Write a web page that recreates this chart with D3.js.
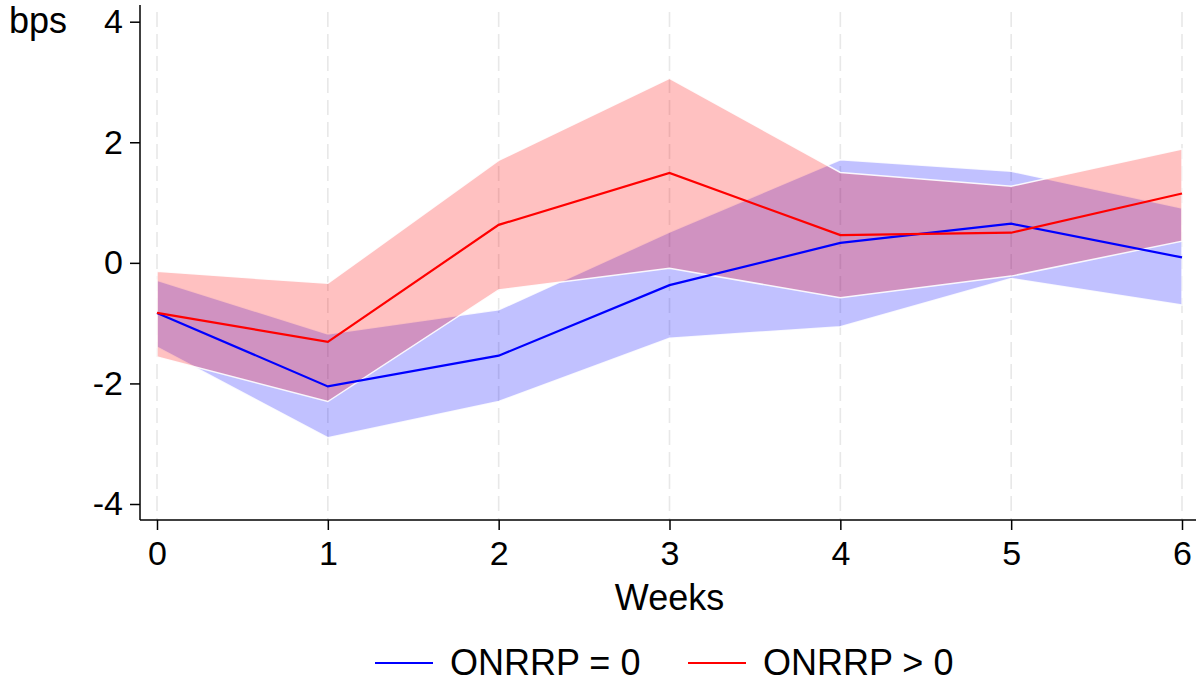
<!DOCTYPE html>
<html>
<head>
<meta charset="utf-8">
<script src="https://cdn.jsdelivr.net/npm/d3@7"></script>
<style>
  html, body { margin: 0; padding: 0; background: #fff; }
  svg { display: block; font-family: "Liberation Sans", Arial, Helvetica, sans-serif; }
</style>
</head>
<body>
<svg id="chart" width="1196" height="683"></svg>
<script>
// Weeks after the event
const weeks = [0, 1, 2, 3, 4, 5, 6];

// ONRRP = 0: point estimate and confidence band (bps)
const zeroMean  = [-0.83, -2.05, -1.54, -0.37, 0.33, 0.65, 0.09];
const zeroUpper = [-0.29, -1.18, -0.78, 0.51, 1.71, 1.52, 0.91];
const zeroLower = [-1.40, -2.90, -2.30, -1.25, -1.06, -0.26, -0.70];

// ONRRP > 0: point estimate and confidence band (bps)
const posMean  = [-0.83, -1.31, 0.63, 1.49, 0.46, 0.50, 1.15];
const posUpper = [-0.14, -0.34, 1.70, 3.06, 1.50, 1.27, 1.89];
const posLower = [-1.56, -2.30, -0.45, -0.09, -0.58, -0.22, 0.36];

const yTicks = [-4, -2, 0, 2, 4];
const seriesNames = ["ONRRP = 0", "ONRRP > 0"];

const svg = d3.select("#chart");

const x = d3.scaleLinear().domain([0, 6]).range([157, 1182]);
const y = d3.scaleLinear().domain([-4, 4]).range([504, 21.7]);

const plotTop = 5, plotBottom = 520, plotLeft = 140, plotRight = 1196;

// vertical dashed grid at each week
svg.append("g")
  .selectAll("line")
  .data(weeks)
  .join("line")
  .attr("x1", d => x(d)).attr("x2", d => x(d))
  .attr("y1", plotTop + 7).attr("y2", plotBottom)
  .attr("stroke", "#e8e8e8")
  .attr("stroke-width", 1.6)
  .attr("stroke-dasharray", "15,7");

function bandData(upper, lower) {
  return weeks.map((w, i) => ({ w, hi: upper[i], lo: lower[i] }));
}

const area = d3.area()
  .x(d => x(d.w))
  .y0(d => y(d.lo))
  .y1(d => y(d.hi));

const line = d3.line()
  .x(d => x(d.w))
  .y(d => y(d.v));

// confidence bands
svg.append("path")
  .datum(bandData(zeroUpper, zeroLower))
  .attr("d", area)
  .attr("fill", "rgb(0,0,255)")
  .attr("fill-opacity", 0.245)
  .attr("stroke", "#fff")
  .attr("stroke-opacity", 0.85)
  .attr("stroke-width", 1.5);

svg.append("path")
  .datum(bandData(posUpper, posLower))
  .attr("d", area)
  .attr("fill", "rgb(255,0,0)")
  .attr("fill-opacity", 0.245)
  .attr("stroke", "#fff")
  .attr("stroke-opacity", 0.9)
  .attr("stroke-width", 1.5);

// point estimates
svg.append("path")
  .datum(weeks.map((w, i) => ({ w, v: zeroMean[i] })))
  .attr("d", line)
  .attr("fill", "none")
  .attr("stroke", "#0000ff")
  .attr("stroke-width", 2.2);

svg.append("path")
  .datum(weeks.map((w, i) => ({ w, v: posMean[i] })))
  .attr("d", line)
  .attr("fill", "none")
  .attr("stroke", "#ff0000")
  .attr("stroke-width", 2.2);

// y axis
const yAxis = svg.append("g")
  .attr("transform", `translate(${plotLeft},0)`)
  .call(d3.axisLeft(y).tickValues(yTicks).tickSize(10).tickPadding(7).tickFormat(d3.format("d")));
yAxis.select(".domain").attr("d", `M0,${plotTop}V${plotBottom}`).attr("stroke", "#000").attr("stroke-width", 1.5);
yAxis.selectAll(".tick line").attr("stroke", "#000").attr("stroke-width", 1.5);
yAxis.selectAll(".tick text")
  .attr("font-size", 34)
  .attr("fill", "#000")
  .attr("font-family", "Liberation Sans, Arial, sans-serif")
  .text(d => d < 0 ? "-" + Math.abs(d) : d);

// x axis
const xAxis = svg.append("g")
  .attr("transform", `translate(0,${plotBottom})`)
  .call(d3.axisBottom(x).tickValues(weeks).tickSize(10).tickPadding(11).tickFormat(d3.format("d")));
xAxis.select(".domain").attr("d", `M${plotLeft},0H${plotRight}`).attr("stroke", "#000").attr("stroke-width", 1.5);
xAxis.selectAll(".tick line").attr("stroke", "#000").attr("stroke-width", 1.5);
xAxis.selectAll(".tick text")
  .attr("font-size", 34)
  .attr("fill", "#000")
  .attr("font-family", "Liberation Sans, Arial, sans-serif");

// axis titles
svg.append("text")
  .attr("x", 9).attr("y", 33)
  .attr("font-size", 36)
  .attr("fill", "#000")
  .text("bps");

svg.append("text")
  .attr("x", (x(0) + x(6)) / 2).attr("y", 610)
  .attr("text-anchor", "middle")
  .attr("font-size", 36)
  .attr("fill", "#000")
  .text("Weeks");

// legend
const legendItems = [
  { name: seriesNames[0], color: "#0000ff", x0: 375 },
  { name: seriesNames[1], color: "#ff0000", x0: 688 }
];
const lg = svg.append("g");
legendItems.forEach(it => {
  lg.append("line")
    .attr("x1", it.x0).attr("x2", it.x0 + 58)
    .attr("y1", 663).attr("y2", 663)
    .attr("stroke", it.color).attr("stroke-width", 2.2);
  lg.append("text")
    .attr("x", it.x0 + 75).attr("y", 675)
    .attr("font-size", 36)
    .attr("fill", "#000")
    .text(it.name);
});
</script>
</body>
</html>
